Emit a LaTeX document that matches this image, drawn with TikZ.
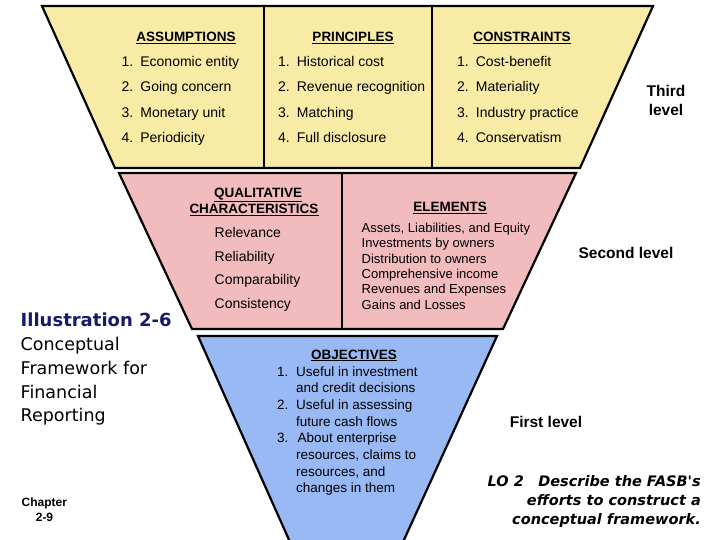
\documentclass[tikz,border=0pt]{standalone}
\usepackage{fontspec}
\setmainfont{Liberation Sans}
\newfontfamily\comicfont{DejaVu Sans}
\usepackage{tikz}
\definecolor{thirdfill}{RGB}{248, 235, 166}
\definecolor{secondfill}{RGB}{242, 187, 190}
\definecolor{firstfill}{RGB}{153, 185, 245}
\definecolor{illusblue}{RGB}{25, 25, 105}

\begin{document}
\begin{tikzpicture}[x=1pt, y=-1pt,
		heading/.style={font=\fontsize{13.5}{15}\selectfont\bfseries, inner sep=0pt, anchor=base},
		item/.style={font=\fontsize{14}{16}\selectfont, inner sep=0pt, anchor=base west},
		elem/.style={font=\fontsize{13}{15}\selectfont, inner sep=0pt, anchor=base west},
		objitem/.style={font=\fontsize{13.5}{16}\selectfont, inner sep=0pt, anchor=base west},
		levelname/.style={font=\fontsize{15.5}{18}\selectfont\bfseries, inner sep=0pt, anchor=base},
		caption/.style={font=\comicfont\fontsize{17.5}{20}\selectfont, inner sep=0pt, anchor=base west},
		lotext/.style={font=\comicfont\bfseries\itshape\fontsize{14.5}{17}\selectfont, inner sep=0pt, anchor=base east}]
			\def\lw{2.2pt}
			\useasboundingbox (0,0) rectangle (720,540);

			% Third level: assumptions, principles, constraints
			\filldraw[thirdfill, draw=black, line width=\lw] (42,6) -- (653,6) -- (580,168) -- (115,168) -- cycle;
			\draw[black, line width=\lw] (264,6) -- (264,168);
			\draw[black, line width=\lw] (432,6) -- (432,168);

			% Second level: qualitative characteristics, elements
			\filldraw[secondfill, draw=black, line width=\lw] (119,173) -- (576,173) -- (503,329) -- (192,329) -- cycle;
			\draw[black, line width=\lw] (342,173) -- (342,329);

			% First level: objectives (runs off the bottom)
			\fill[firstfill] (198,336) -- (497,336) -- (403,542) -- (290,542) -- cycle;
			\draw[black, line width=\lw] (290,542) -- (198,336) -- (497,336) -- (403,542);

			\node[heading] (assumptions) at (186,41.5) {\underline{ASSUMPTIONS}};
			\node[heading] (principles) at (353,41.5) {\underline{PRINCIPLES}};
			\node[heading] (constraints) at (522,41.5) {\underline{CONSTRAINTS}};

			\node[item] (assume1) at (121.5,66.5) {1.\enspace Economic entity};
			\node[item] (assume2) at (121.5,92) {2.\enspace Going concern};
			\node[item] (assume3) at (121.5,117.5) {3.\enspace Monetary unit};
			\node[item] (assume4) at (121.5,142.5) {4.\enspace Periodicity};

			\node[item] (princ1) at (278,66.5) {1.\enspace Historical cost};
			\node[item] (princ2) at (278,92) {2.\enspace Revenue recognition};
			\node[item] (princ3) at (278,117.5) {3.\enspace Matching};
			\node[item] (princ4) at (278,142.5) {4.\enspace Full disclosure};

			\node[item] (constr1) at (457,66.5) {1.\enspace Cost-benefit};
			\node[item] (constr2) at (457,92) {2.\enspace Materiality};
			\node[item] (constr3) at (457,117.5) {3.\enspace Industry practice};
			\node[item] (constr4) at (457,142.5) {4.\enspace Conservatism};

			\node[heading] (qualhead1) at (258,197.3) {\underline{QUALITATIVE}};
			\node[heading] (qualhead2) at (254,213.3) {\underline{CHARACTERISTICS}};
			\node[item] (qual1) at (214.5,237.3) {Relevance};
			\node[item] (qual2) at (214.5,261.3) {Reliability};
			\node[item] (qual3) at (214.5,284.5) {Comparability};
			\node[item] (qual4) at (214.5,308.3) {Consistency};

			\node[heading] (elemhead) at (450,211.5) {\underline{ELEMENTS}};
			\node[elem] (elem1) at (361.5,232.5) {Assets, Liabilities, and Equity};
			\node[elem] (elem2) at (361.5,247.8) {Investments by owners};
			\node[elem] (elem3) at (361.5,263) {Distribution to owners};
			\node[elem] (elem4) at (361.5,278.4) {Comprehensive income};
			\node[elem] (elem5) at (361.5,293.8) {Revenues and Expenses};
			\node[elem] (elem6) at (361.5,309) {Gains and Losses};

			\node[heading] (objhead) at (354,359) {\underline{OBJECTIVES}};
			\node[objitem] (objnum1) at (277,376) {1.};
			\node[objitem] (obj1a) at (296,376) {Useful in investment};
			\node[objitem] (obj1b) at (296,392.7) {and credit decisions};
			\node[objitem] (objnum2) at (277,409.3) {2.};
			\node[objitem] (obj2a) at (296,409.3) {Useful in assessing};
			\node[objitem] (obj2b) at (296,426) {future cash flows};
			\node[objitem] (objnum3) at (277,442.7) {3.};
			\node[objitem] (obj3a) at (297.5,442.7) {About enterprise};
			\node[objitem] (obj3b) at (296,459.3) {resources, claims to};
			\node[objitem] (obj3c) at (296,476) {resources, and};
			\node[objitem] (obj3d) at (296,492.7) {changes in them};

			\node[levelname] (third1) at (666,97) {Third};
			\node[levelname] (third2) at (666,115.5) {level};
			\node[levelname] (second) at (626,258.3) {Second level};
			\node[levelname] (first) at (546,427.3) {First level};

			\node[caption, font=\comicfont\bfseries\fontsize{18}{20}\selectfont, text=illusblue] (illus) at (20.5,326.7) {Illustration 2-6};
			\node[caption] (cap1) at (20.5,350) {Conceptual};
			\node[caption] (cap2) at (20.5,374) {Framework for};
			\node[caption] (cap3) at (20.5,398) {Financial};
			\node[caption] (cap4) at (20.5,421.7) {Reporting};

			\node[font=\fontsize{12}{14}\selectfont\bfseries, inner sep=0pt, anchor=base west] (chapter) at (21.5,506.7) {Chapter};
			\node[font=\fontsize{12}{14}\selectfont\bfseries, inner sep=0pt, anchor=base] (chapnum) at (44.5,521.7) {2-9};

			\node[lotext] (lo1) at (701,486.5) {LO 2\quad Describe the FASB's};
			\node[lotext] (lo2) at (701,505.5) {efforts to construct a};
			\node[lotext] (lo3) at (701,524.5) {conceptual framework.};

		\end{tikzpicture}
\end{document}
